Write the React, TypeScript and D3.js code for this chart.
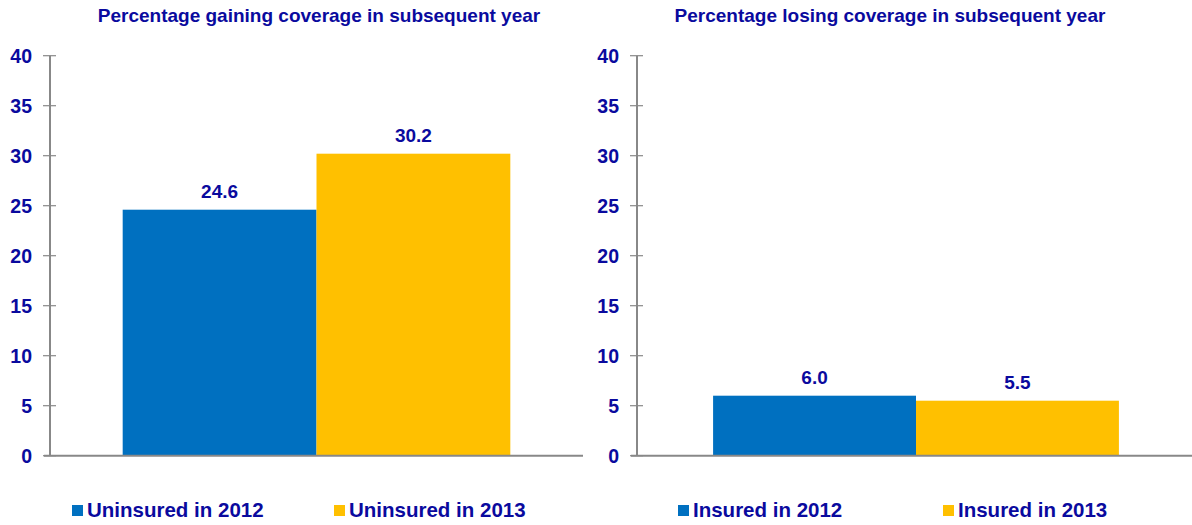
import React from "react";
import * as d3 from "d3";

const leftTitle = "Percentage gaining coverage in subsequent year";
const rightTitle = "Percentage losing coverage in subsequent year";
const leftSeries = ["Uninsured in 2012", "Uninsured in 2013"];
const leftValues = [24.6, 30.2];
const rightSeries = ["Insured in 2012", "Insured in 2013"];
const rightValues = [6.0, 5.5];
const yTicks = [0, 5, 10, 15, 20, 25, 30, 35, 40];
const colors = ["#0070C0", "#FFC000"];

const TEXT = "#0A0A9E";
const AXIS = "#888888";
const FONT = "'Liberation Sans', Arial, sans-serif";

type PanelProps = {
  title: string;
  titleX: number;
  series: string[];
  values: number[];
  axisX: number;
  plotRight: number;
  legendX: number[];
};

function Panel({ title, titleX, series, values, axisX, plotRight, legendX }: PanelProps) {
  const y = d3.scaleLinear().domain([0, 40]).range([455.7, 55.7]);
  const x = d3
    .scaleBand<string>()
    .domain(series)
    .range([axisX, plotRight])
    .paddingInner(0)
    .paddingOuter(0.375);
  return (
    <g>
      <text
        x={titleX}
        y={22}
        textAnchor="middle"
        fontFamily={FONT}
        fontWeight="bold"
        fontSize={19}
        fill={TEXT}
      >
        {title}
      </text>
      {series.map((s, i) => (
        <rect
          key={s}
          x={x(s)!}
          y={y(values[i])}
          width={x.bandwidth()}
          height={y(0) - y(values[i])}
          fill={colors[i]}
        />
      ))}
      {series.map((s, i) => (
        <text
          key={"l" + s}
          x={x(s)! + x.bandwidth() / 2}
          y={y(values[i]) - 12}
          textAnchor="middle"
          fontFamily={FONT}
          fontWeight="bold"
          fontSize={19}
          fill={TEXT}
        >
          {values[i].toFixed(1)}
        </text>
      ))}
      <line x1={axisX} x2={axisX} y1={y(40)} y2={y(0)} stroke={AXIS} strokeWidth={2} />
      <line x1={axisX - 6} x2={plotRight} y1={y(0)} y2={y(0)} stroke={AXIS} strokeWidth={2} />
      {yTicks.map((t) => (
        <g key={t}>
          <line x1={axisX - 7} x2={axisX + 6} y1={y(t)} y2={y(t)} stroke={AXIS} strokeWidth={1.2} />
          <text
            x={axisX - 18}
            y={y(t)}
            dy="0.36em"
            textAnchor="end"
            fontFamily={FONT}
            fontWeight="bold"
            fontSize={19.5}
            fill={TEXT}
          >
            {t}
          </text>
        </g>
      ))}
      {series.map((s, i) => (
        <g key={"lg" + s}>
          <rect x={legendX[i]} y={505} width={11} height={11} fill={colors[i]} />
          <text
            x={legendX[i] + 15}
            y={516.5}
            fontFamily={FONT}
            fontWeight="bold"
            fontSize={20.5}
            fill={TEXT}
          >
            {s}
          </text>
        </g>
      ))}
    </g>
  );
}

export default function App() {
  return (
    <div style={{ position: "absolute", left: 0, top: 0 }}>
      <svg width={1192} height={525} style={{ display: "block", background: "#fff" }}>
        <Panel
          title={leftTitle}
          titleX={319}
          series={leftSeries}
          values={leftValues}
          axisX={50}
          plotRight={583}
          legendX={[72, 334]}
        />
        <Panel
          title={rightTitle}
          titleX={890}
          series={rightSeries}
          values={rightValues}
          axisX={637}
          plotRight={1195}
          legendX={[678, 943]}
        />
      </svg>
    </div>
  );
}
